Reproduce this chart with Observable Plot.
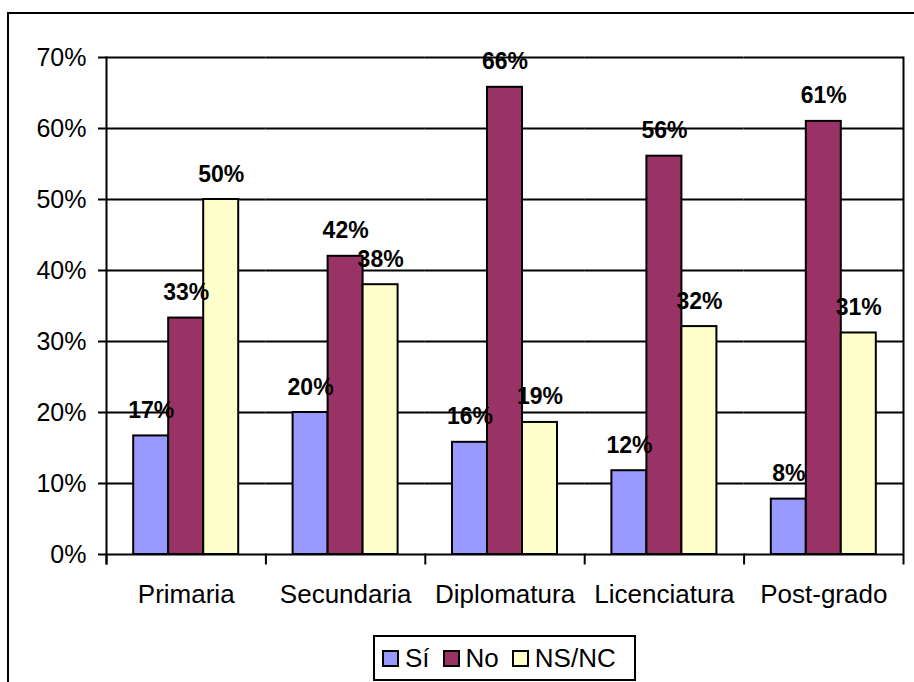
<!DOCTYPE html>
<html>
<head>
<meta charset="utf-8">
<script src="https://cdn.jsdelivr.net/npm/d3@7"></script>
<script src="https://cdn.jsdelivr.net/npm/@observablehq/plot@0.6"></script>
<style>
  html, body { margin: 0; padding: 0; background: #fff; overflow: hidden; }
  #wrap { position: relative; width: 914px; height: 682px; overflow: hidden; font-family: "Liberation Sans", Arial, sans-serif; }
  #border { position: absolute; left: 7px; top: 12px; width: 960px; height: 720px; border: 2px solid #000; box-sizing: border-box; }
  #chart { position: absolute; left: 0; top: 0; }
  #legend { position: absolute; left: 373px; top: 635px; width: 263px; height: 46px; border: 2px solid #000; box-sizing: border-box; background: #fff;
            display: flex; align-items: center; justify-content: flex-start; padding-left: 7px; font-size: 26px; color: #000; }
  .item { display: flex; align-items: center; margin-right: 13px; }
  .sw { width: 13px; height: 13px; border: 2px solid #000; margin-right: 6px; }
</style>
</head>
<body>
<div id="wrap">
  <div id="border"></div>
  <div id="chart"></div>
  <div id="legend"></div>
</div>
<script>
const categories = ["Primaria", "Secundaria", "Diplomatura", "Licenciatura", "Post-grado"];
const series = ["Sí", "No", "NS/NC"];
const colors = ["#9999FF", "#993366", "#FFFFCC"];
const valuesSi = [16.7, 20.0, 15.8, 11.8, 7.8];
const valuesNo = [33.3, 42.0, 65.8, 56.1, 61.0];
const valuesNS = [50.0, 38.0, 18.6, 32.1, 31.2];
const yTicks = [0, 10, 20, 30, 40, 50, 60, 70];

const seriesValues = [valuesSi, valuesNo, valuesNS];
const data = [];
categories.forEach((c, i) => {
  series.forEach((s, j) => data.push({category: c, series: s, value: seriesValues[j][i]}));
});

const H = 620, mTop = 57, mBottom = 66;
const plotH = H - mTop - mBottom;

const chart = Plot.plot({
  width: 914,
  height: H,
  marginTop: mTop,
  marginBottom: mBottom,
  marginLeft: 106,
  marginRight: 11,
  style: {fontFamily: "'Liberation Sans', Arial, sans-serif", color: "#000", background: "transparent"},
  fx: {domain: categories, padding: 0, round: false, label: null},
  x: {domain: series, paddingInner: 0, paddingOuter: 0.777, round: false, axis: null, label: null},
  y: {domain: [0, 70], label: null},
  color: {domain: series, range: colors},
  marks: [
    Plot.gridY(yTicks, {stroke: "#000", strokeOpacity: 1, strokeWidth: 2}),
    Plot.barY(data, {fx: "category", x: "series", y: "value", fill: "series", stroke: "#000", strokeWidth: 2}),
    Plot.frame({anchor: "left", facetAnchor: "left", insetBottom: -9, stroke: "#000", strokeWidth: 2}),
    Plot.frame({anchor: "right", facetAnchor: "right", insetBottom: -9, stroke: "#000", strokeWidth: 2}),
    Plot.frame({anchor: "left", insetTop: plotH, insetBottom: -9, stroke: "#000", strokeWidth: 2}),
    Plot.axisY(yTicks, {tickSize: 8, tickPadding: 12, tickFormat: d => d + "%", fontSize: 25, strokeWidth: 2, label: null}),
    Plot.axisFx({anchor: "bottom", tickSize: 0, tickPadding: 30, fontSize: 26, label: null}),
    Plot.text(data, {fx: "category", x: "series", y: "value", text: d => Math.round(d.value) + "%", dy: -18, lineAnchor: "bottom", fontWeight: "bold", fontSize: 23, fill: "#000"})
  ]
});
document.getElementById("chart").appendChild(chart);

const legend = document.getElementById("legend");
series.forEach((s, j) => {
  const item = document.createElement("div");
  item.className = "item";
  const sw = document.createElement("div");
  sw.className = "sw";
  sw.style.background = colors[j];
  const t = document.createElement("span");
  t.textContent = s;
  item.appendChild(sw);
  item.appendChild(t);
  legend.appendChild(item);
});
</script>
</body>
</html>
